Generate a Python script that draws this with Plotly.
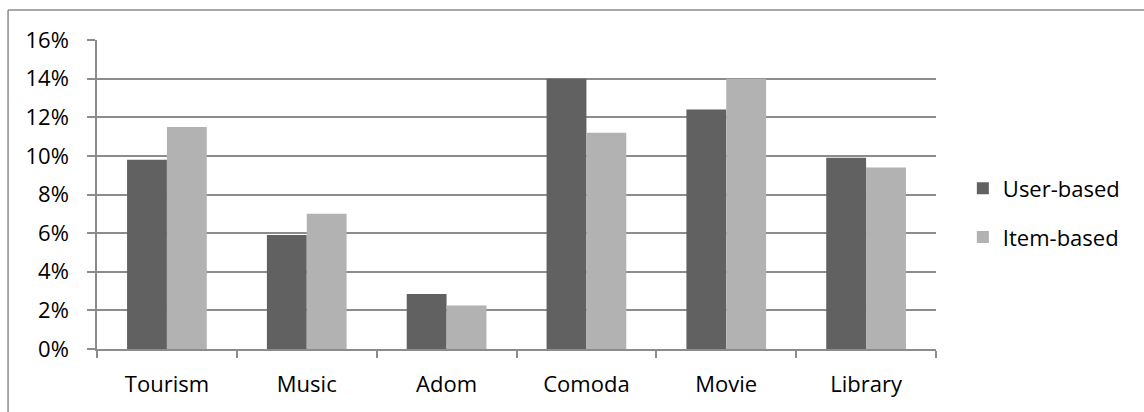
import plotly.graph_objects as go

categories = ["Tourism", "Music", "Adom", "Comoda", "Movie", "Library"]
user_based = [9.8, 5.9, 2.85, 14.0, 12.4, 9.9]
item_based = [11.5, 7.0, 2.25, 11.2, 14.0, 9.4]
y_ticks = [0, 2, 4, 6, 8, 10, 12, 14, 16]
y_labels = [f"{v}%" for v in y_ticks]

FONT = "Open Sans"
GRID = "#8c8c8c"

fig = go.Figure()
fig.add_trace(go.Bar(x=categories, y=user_based, name="User-based",
                     marker=dict(color="#616161", line=dict(width=0)), legendgroup="a"))
fig.add_trace(go.Bar(x=categories, y=item_based, name="Item-based",
                     marker=dict(color="#b2b2b2", line=dict(width=0)), legendgroup="b"))

fig.update_layout(
    width=1144, height=412,
    margin=dict(l=97, r=208, t=40, b=63),
    paper_bgcolor="white", plot_bgcolor="white",
    barmode="group", bargap=0.43, bargroupgap=0,
    font=dict(family=FONT, size=22, color="black"),
    legend=dict(x=1.032, y=0.44, xanchor="left", yanchor="middle",
                font=dict(family=FONT, size=22, color="black"),
                tracegroupgap=17, itemwidth=30, bgcolor="rgba(0,0,0,0)"),
    xaxis=dict(showgrid=False, showline=True, linecolor=GRID, linewidth=1.5,
               ticks="outside", tickson="boundaries", ticklen=7, tickcolor=GRID,
               tickwidth=1.5, tickfont=dict(size=22, color="black"),
               ticklabelstandoff=15),
    yaxis=dict(range=[0, 16], tickvals=y_ticks, ticktext=y_labels,
               showgrid=True, gridcolor=GRID, gridwidth=1.5,
               showline=True, linecolor=GRID, linewidth=1.5,
               ticks="outside", ticklen=8, tickcolor=GRID, tickwidth=1.5,
               tickfont=dict(size=22, color="black"), zeroline=False,
               ticklabelstandoff=14),
    shapes=[
        dict(type="line", xref="paper", yref="paper", x0=-0.106, x1=1.26, y0=1.097, y1=1.097,
             line=dict(color=GRID, width=1.5)),
        dict(type="line", xref="paper", yref="paper", x0=-0.106, x1=-0.106, y0=1.097, y1=-0.25,
             line=dict(color=GRID, width=1.5)),
    ],
)

fig.write_html("out.html", config={"displayModeBar": False},
               post_script="document.body.style.margin='0';document.body.style.overflow='hidden';")
